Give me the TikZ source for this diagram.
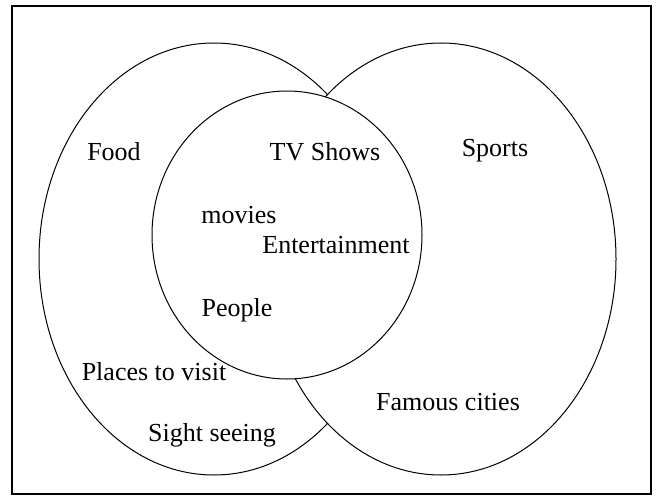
\documentclass[tikz,border=0pt]{standalone}
\usepackage{fontspec}
\setmainfont{Liberation Serif}
\usetikzlibrary{positioning}

\begin{document}
\begin{tikzpicture}[
    x=1pt,
    y=-1pt,
    every node/.style={font=\fontsize{26}{30}\selectfont, inner sep=0pt},
    frame/.style={
        draw=black,
        line width=1.6pt
    },
    region/.style={
        draw=black,
        fill=white,
        line width=1pt
    },
    label/.style={
        anchor=center
    }
]

% ============================================
% Frame
% ============================================
\useasboundingbox (0,0) rectangle (663,495);
\draw[frame] (12,6) rectangle (651,494);

% ============================================
% Sets: left, right, middle
% ============================================
\filldraw[region] (214,259) ellipse [x radius=175, y radius=216];
\filldraw[region] (441,259) ellipse [x radius=175, y radius=216];
\filldraw[region] (287,235) ellipse [x radius=135, y radius=144];

% ============================================
% Labels
% ============================================
\node[label] (food) at (114,152) {Food};
\node[label] (tvshows) at (325,152) {TV Shows};
\node[label] (sports) at (495,151) {Sports};

\node[label] (movies) at (239,215) {movies};
\node[label] (entertain) at (336,245) {Entertainment};
\node[label] (people) at (237,310) {People};

\node[label] (places) at (154,372) {Places to visit};
\node[label] (cities) at (448,402) {Famous cities};
\node[label] (sight) at (212,435) {Sight seeing};

\end{tikzpicture}
\end{document}
